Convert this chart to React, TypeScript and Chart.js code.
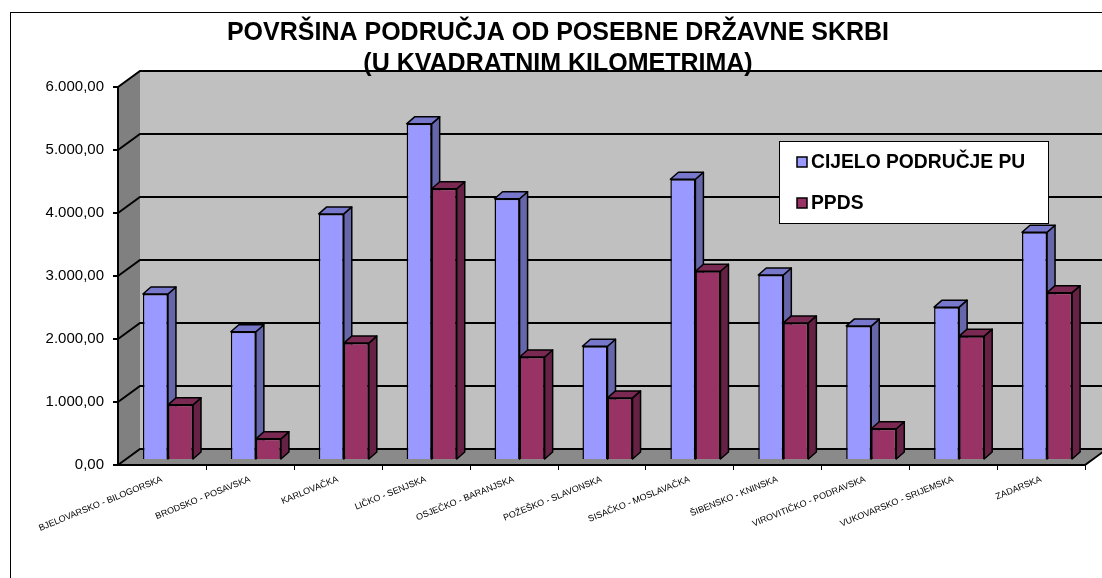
import React, { useEffect, useRef } from 'react';
import { Chart, registerables } from 'chart.js';

Chart.register(...registerables);

const categories = [
  'BJELOVARSKO - BILOGORSKA',
  'BRODSKO - POSAVSKA',
  'KARLOVAČKA',
  'LIČKO - SENJSKA',
  'OSJEČKO - BARANJSKA',
  'POŽEŠKO - SLAVONSKA',
  'SISAČKO - MOSLAVAČKA',
  'ŠIBENSKO - KNINSKA',
  'VIROVITIČKO - PODRAVSKA',
  'VUKOVARSKO - SRIJEMSKA',
  'ZADARSKA',
];
const cijeloPodrucjePU = [2620, 2020, 3890, 5320, 4130, 1790, 4440, 2920, 2110, 2410, 3600];
const ppds = [860, 320, 1840, 4290, 1620, 970, 2980, 2160, 480, 1950, 2640];
const seriesNames = ['CIJELO PODRUČJE PU', 'PPDS'];
const titleLines = ['POVRŠINA PODRUČJA OD POSEBNE DRŽAVNE SKRBI', '(U KVADRATNIM KILOMETRIMA)'];
const yTickValues = [0, 1000, 2000, 3000, 4000, 5000, 6000];

const FONT = '"Liberation Sans", Arial, Helvetica, sans-serif';
const FRONT = ['#9999FF', '#993366'];
const SIDE = ['#6666AA', '#662244'];
const TOP = ['#7777CC', '#7A2952'];
const WALL_DX = 22;
const WALL_DY = -16;
const BAR_SHIFT_X = 6;
const BAR_SHIFT_Y = -6;
const BAR_DX = 8;
const BAR_DY = -7;

function fmt(v: number): string {
  const s = Math.round(v).toString().replace(/\B(?=(\d{3})+(?!\d))/g, '.');
  return s + ',00';
}

function poly(ctx: CanvasRenderingContext2D, pts: number[][], fill: string, stroke?: string, lw = 1) {
  ctx.beginPath();
  ctx.moveTo(pts[0][0], pts[0][1]);
  for (let i = 1; i < pts.length; i++) ctx.lineTo(pts[i][0], pts[i][1]);
  ctx.closePath();
  ctx.fillStyle = fill;
  ctx.fill();
  if (stroke) {
    ctx.strokeStyle = stroke;
    ctx.lineWidth = lw;
    ctx.lineJoin = 'round';
    ctx.stroke();
  }
}

const threeD = {
  id: 'threeD',
  beforeDraw(chart: any) {
    const { ctx, chartArea: a, scales } = chart;
    const ys = scales.y;
    const L = a.left, R = a.right, T = a.top, B = a.bottom;
    ctx.save();
    // outer frame
    ctx.strokeStyle = '#000';
    ctx.lineWidth = 1;
    ctx.strokeRect(10.5, 12.5, 1400, 900);
    // left wall
    poly(ctx, [[L, B], [L, T], [L + WALL_DX, T + WALL_DY], [L + WALL_DX, B + WALL_DY]], '#808080');
    // back wall
    ctx.fillStyle = '#C0C0C0';
    ctx.fillRect(L + WALL_DX, T + WALL_DY, R - L, B - T);
    // floor
    poly(ctx, [[L, B], [R, B], [R + WALL_DX, B + WALL_DY], [L + WALL_DX, B + WALL_DY]], '#8A8A8A');
    // gridlines
    ctx.strokeStyle = '#000';
    ctx.lineWidth = 2;
    for (const v of yTickValues) {
      const py = ys.getPixelForValue(v);
      ctx.beginPath();
      ctx.moveTo(L, py);
      ctx.lineTo(L + WALL_DX, py + WALL_DY);
      ctx.lineTo(R + WALL_DX, py + WALL_DY);
      ctx.stroke();
      ctx.beginPath();
      ctx.moveTo(L - 5, py);
      ctx.lineTo(L, py);
      ctx.stroke();
    }
    // floor front and right edges
    ctx.beginPath();
    ctx.moveTo(L, B);
    ctx.lineTo(R, B);
    ctx.lineTo(R + WALL_DX, B + WALL_DY);
    ctx.stroke();
    // y axis line
    ctx.beginPath();
    ctx.moveTo(L, T);
    ctx.lineTo(L, B);
    ctx.stroke();
    // category tick marks
    ctx.lineWidth = 1;
    const n = categories.length;
    for (let k = 1; k <= n; k++) {
      const x = Math.round(L + (k * (R - L)) / n) + 0.5;
      ctx.beginPath();
      ctx.moveTo(x, B);
      ctx.lineTo(x, B + 5);
      ctx.stroke();
    }
    ctx.restore();
  },
  beforeDatasetsDraw(chart: any) {
    const { ctx } = chart;
    // legend box
    ctx.save();
    ctx.fillStyle = '#FFFFFF';
    ctx.fillRect(779, 141, 269, 82);
    ctx.strokeStyle = '#000';
    ctx.lineWidth = 1;
    ctx.strokeRect(779.5, 141.5, 269, 82);
    const rows = [162, 203];
    ctx.font = `bold 19.3px ${FONT}`;
    ctx.textBaseline = 'middle';
    ctx.textAlign = 'left';
    seriesNames.forEach((name, i) => {
      const cy = rows[i];
      ctx.fillStyle = FRONT[i];
      ctx.fillRect(797, cy - 5, 10, 10);
      ctx.strokeStyle = '#000';
      ctx.lineWidth = 1.5;
      ctx.strokeRect(797, cy - 5, 10, 10);
      ctx.fillStyle = '#000';
      ctx.fillText(name, 811, cy + 1);
    });
    ctx.restore();

    // shift bars into their depth plane, then draw side/top faces
    ctx.save();
    ctx.translate(BAR_SHIFT_X, BAR_SHIFT_Y);
    const metas = [chart.getDatasetMeta(0), chart.getDatasetMeta(1)];
    for (let j = 0; j < categories.length; j++) {
      metas.forEach((meta: any, di: number) => {
        const el = meta.data[j];
        if (!el) return;
        const p = el.getProps(['x', 'y', 'base', 'width'], true);
        const left = p.x - p.width / 2;
        const right = p.x + p.width / 2;
        const top = Math.min(p.y, p.base);
        const bottom = Math.max(p.y, p.base);
        poly(ctx, [[right, top], [right + BAR_DX, top + BAR_DY], [right + BAR_DX, bottom + BAR_DY], [right, bottom]], SIDE[di], '#000', 1.5);
        poly(ctx, [[left, top], [left + BAR_DX, top + BAR_DY], [right + BAR_DX, top + BAR_DY], [right, top]], TOP[di], '#000', 1.5);
      });
    }
  },
  afterDatasetsDraw(chart: any) {
    chart.ctx.restore();
  },
};

export default function App() {
  const ref = useRef<HTMLCanvasElement>(null);
  useEffect(() => {
    if (!ref.current) return;
    const chart = new Chart(ref.current, {
      type: 'bar',
      data: {
        labels: categories,
        datasets: [
          {
            label: seriesNames[0],
            data: cijeloPodrucjePU,
            backgroundColor: FRONT[0],
            borderColor: '#000',
            borderWidth: 1.5,
            clip: false as any,
          },
          {
            label: seriesNames[1],
            data: ppds,
            backgroundColor: FRONT[1],
            borderColor: '#000',
            borderWidth: 1.5,
            clip: false as any,
          },
        ],
      },
      options: {
        animation: false,
        responsive: false,
        devicePixelRatio: 1,
        events: [],
        layout: { padding: { left: 31, right: 17, top: 0, bottom: 0 } },
        datasets: { bar: { categoryPercentage: 0.57, barPercentage: 1 } },
        plugins: {
          legend: { display: false },
          tooltip: { enabled: false },
          title: {
            display: true,
            text: titleLines,
            color: '#000',
            font: { family: FONT, size: 25, weight: 'bold', lineHeight: 1.26 },
            padding: { top: 17, bottom: 7 },
          },
        },
        scales: {
          x: {
            grid: { display: false, drawTicks: false },
            border: { display: false },
            ticks: {
              autoSkip: false,
              maxRotation: 22,
              minRotation: 22,
              padding: 9,
              color: '#000',
              font: { family: FONT, size: 9 },
            },
            afterFit(scale: any) {
              scale.height = 113;
              scale.paddingLeft = 0;
              scale.paddingRight = 0;
            },
          },
          y: {
            min: 0,
            max: 6000,
            grid: { display: false, drawTicks: false },
            border: { display: false },
            ticks: {
              stepSize: 1000,
              padding: 14,
              color: '#000',
              font: { family: FONT, size: 15 },
              callback: (v: any) => fmt(Number(v)),
            },
            afterFit(scale: any) {
              scale.width = 87;
              scale.paddingTop = 0;
              scale.paddingBottom = 0;
            },
          },
        },
      },
      plugins: [threeD],
    });
    return () => chart.destroy();
  }, []);
  return (
    <div style={{ position: 'fixed', left: 0, top: 0, width: 1102, height: 578, background: '#fff' }}>
      <canvas ref={ref} width={1102} height={578} style={{ display: 'block' }} />
    </div>
  );
}
